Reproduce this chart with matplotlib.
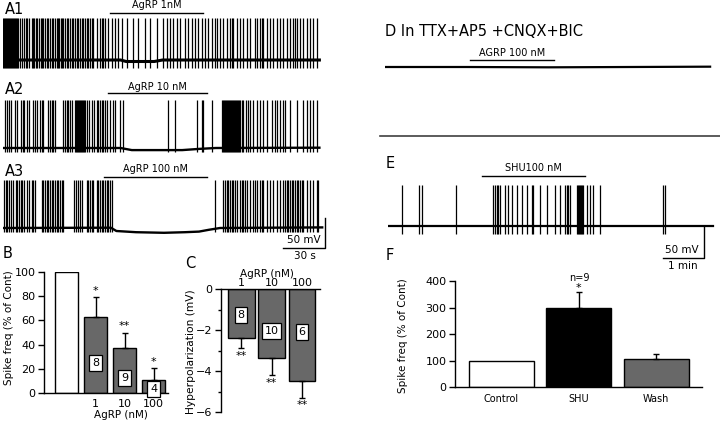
import matplotlib
matplotlib.use('Agg')
import matplotlib.pyplot as plt
import numpy as np
from matplotlib.lines import Line2D

# ---- recordings: spike times (s) ----
a1_spikes = [0, 0.7, 1.4, 2.1, 2.9, 3.6, 4.3, 5.0, 5.7, 6.4, 7.1, 7.9, 8.6, 9.3, 10.0, 10.7,
             12.1, 13.6, 15.0, 16.4, 17.1, 18.6, 20.7, 21.4, 22.1, 23.6, 24.3, 25.7, 27.1, 27.9,
             28.6, 30.0, 31.4, 32.1, 33.6, 35.0, 35.7, 37.1, 38.6, 39.3, 40.0, 41.4, 42.1, 42.9,
             44.3, 45.7, 46.4, 47.9, 49.3, 50.0, 51.4, 52.9, 53.6, 55.0, 56.4, 57.1, 58.6, 60.0,
             60.7, 62.1, 63.6, 64.3, 67.1, 69.3, 70.7, 71.4, 72.9, 75.0, 77.9, 80.0, 82.1, 85.0,
             88.6, 92.9, 96.4, 101.4, 105.0, 110.0, 114.3, 117.1, 119.3, 121.4, 124.3, 126.4,
             130.0, 132.1, 135.0, 137.1, 139.3, 142.1, 144.3, 146.4, 149.3, 151.4, 152.9, 155.0,
             157.1, 160.0, 162.1, 163.6, 164.3, 167.1, 169.3, 171.4, 174.3, 176.4, 180.0, 181.4,
             183.6, 185.0, 185.7, 188.6, 190.7, 192.9, 195.7, 197.9, 200.0, 202.9, 205.0, 207.1,
             208.6, 210.0, 212.1, 214.3, 217.1, 219.3, 221.4, 224.3]
a1_base_t = [0, 84, 88, 108, 114, 226]
a1_base_v = [0, 0, -2.5, -2.5, 0, 0]
a1_drug = (76.4, 142.9)

a2_spikes = [1.4, 2.9, 4.3, 5.7, 8.6, 10.0, 12.9, 14.3, 15.0, 17.1, 18.6, 21.4, 22.9, 24.3,
             26.4, 27.9, 28.6, 32.1, 33.6, 35.0, 35.7, 37.1, 42.9, 44.3, 45.7, 46.4, 47.9, 49.3,
             51.4, 52.1, 52.9, 53.6, 54.3, 55.0, 55.7, 56.4, 57.1, 57.9, 58.6, 60.0, 61.4, 63.6,
             65.0, 67.1, 67.9, 69.3, 70.7, 71.4, 72.9, 74.3, 76.4, 78.6, 80.0, 83.6, 85.7,
             117.9, 122.9, 138.6, 142.1, 142.9, 149.3,
             156.4, 157.1, 157.9, 158.6, 159.3, 160.0, 160.7, 161.4, 162.1, 162.9, 163.6, 164.3,
             165.0, 165.7, 166.4, 167.1, 167.9, 168.6, 169.3, 170.7, 171.4, 173.6, 175.0, 176.4,
             178.6, 181.4, 183.6, 185.7, 188.6, 192.1, 194.3, 195.7, 197.9, 200.0, 201.4, 205.0,
             210.0, 214.3, 217.1, 219.3, 221.4, 224.3]
a2_base_t = [0, 84, 92, 128, 140, 152, 226]
a2_base_v = [0, 0, -3.5, -3.5, -1.5, 0, 0.5]
a2_drug = (75.0, 145.7)

a3_spikes = [0.7, 2.1, 2.9, 4.3, 5.7, 7.1, 9.3, 10.0, 11.4, 12.9, 13.6, 15.0, 17.1, 18.6,
             20.7, 21.4, 22.9, 27.9, 28.6, 30.0, 31.4, 32.1, 33.6, 35.0, 35.7, 37.1, 38.6, 39.3,
             40.7, 42.1, 42.9, 50.7, 52.1, 53.6, 55.0, 56.4, 60.0, 60.7, 62.1, 63.6, 64.3, 67.1,
             67.9, 69.3, 70.7, 71.4, 72.9, 74.3, 75.0, 76.4, 77.9, 151.4,
             157.1, 158.6, 160.0, 160.7, 162.1, 163.6, 164.3, 165.7, 167.1, 169.3, 170.7, 171.4,
             172.9, 174.3, 176.4, 178.6, 180.0, 181.4, 183.6, 185.0, 185.7, 188.6, 190.7, 192.9,
             195.7, 197.9, 200.0, 201.4, 202.9, 203.6, 205.0, 206.4, 207.1, 208.6, 210.0, 210.7,
             212.1, 213.6, 214.3, 217.1, 219.3, 221.4, 224.3, 225.0]
a3_base_t = [0, 77, 81, 95, 115, 130, 140, 147, 155, 228]
a3_base_v = [0, 0.5, -5, -7, -8, -7, -6, -3, 0, 1]
a3_drug = (72.1, 145.7)

d_base_t = [0, 120, 240, 360, 476]
d_base_v = [0, 0, -0.5, 0, 0.5]
d_drug = (124.5, 247.4)

e_spikes = [20.5, 45.4, 49.8, 99.6, 153.7, 156.7, 159.6, 161.1, 164.0, 171.3, 175.7, 181.6,
            188.9, 196.2, 203.5, 210.8, 212.3, 222.5, 232.8, 244.5, 251.8, 259.2, 262.1, 263.5,
            266.5, 276.7, 278.2, 279.6, 281.1, 282.6, 284.0, 285.5, 291.4, 295.7, 300.1, 310.4,
            402.6, 405.6]
e_base_t = [0, 476]
e_base_v = [0, 0]
e_drug = (137.6, 288.4)

# ---- bar summaries ----
b_labels = ['', '1', '10', '100']
b_vals = [100, 62.4, 37.3, 11.1]
b_err = [0, 16.8, 12.6, 9.5]
b_n = ['', '8', '9', '4']
b_n_y = [0, 25, 12.5, 3.5]
b_stars = ['', '*', '**', '*']

c_labels = ['1', '10', '100']
c_vals = [-2.4, -3.35, -4.5]
c_err = [0.5, 0.85, 0.8]
c_n = ['8', '10', '6']
c_n_y = [-1.27, -2.05, -2.1]

f_labels = ['Control', 'SHU', 'Wash']
f_vals = [100, 299, 105]
f_err = [0, 61, 20]

W, H = 720, 423
fig = plt.figure(figsize=(W / 100, H / 100), dpi=100)
GRAY = '#686868'


def px_axes(x0, y0, x1, y1):
    ax = fig.add_axes([x0 / W, 1 - y1 / H, (x1 - x0) / W, (y1 - y0) / H])
    ax.set_facecolor('none')
    return ax


def ftext(x, y, s, **kw):
    fig.text(x / W, 1 - y / H, s, **kw)


def trace_ax(x0, x1, y0, y1, ybase, px_s, px_mv):
    ax = px_axes(x0, y0, x1, y1)
    ax.set_xlim(0, (x1 - x0) / px_s)
    ax.set_ylim((ybase - y1) / px_mv, (ybase - y0) / px_mv)
    ax.axis('off')
    return ax


def draw_trace(ax, spikes, bt, bv, foot, peak, drug, label, bar_v, txt_v, base_lw=1.7):
    if len(spikes):
        ax.vlines(spikes, foot, peak, colors='k', lw=0.9)
    ax.plot(bt, bv, color='k', lw=base_lw)
    ax.plot(drug, [bar_v, bar_v], color='k', lw=1.0, clip_on=False)
    ax.text(np.mean(drug), txt_v, label, ha='center', va='center', fontsize=7, clip_on=False)


# A traces (42 px = 30 s, 30 px = 50 mV)
ax1 = trace_ax(3, 330, 0, 80, 60, 1.4, 0.6)
draw_trace(ax1, a1_spikes, a1_base_t, a1_base_v, -13, 70, a1_drug, 'AgRP 1nM', 78, 91.7, 2.2)
ax2 = trace_ax(3, 330, 80, 158, 148, 1.4, 0.6)
draw_trace(ax2, a2_spikes, a2_base_t, a2_base_v, -6.7, 80, a2_drug, 'AgRP 10 nM', 91.7, 101.7)
ax3 = trace_ax(3, 335, 160, 262, 228, 1.4, 0.6)
draw_trace(ax3, a3_spikes, a3_base_t, a3_base_v, -6.7, 80, a3_drug, 'AgRP 100 nM', 85, 98.3)
ax3.plot([200, 230, 230], [-33.3, -33.3, 16.7], color='k', lw=1.0, clip_on=False)
ax3.text(215, -20, '50 mV', ha='center', va='center', fontsize=7.5)
ax3.text(216, -46.7, '30 s', ha='center', va='center', fontsize=7.5, clip_on=False)

ftext(5, 9, 'A1', fontsize=10.5, va='center')
ftext(5, 90, 'A2', fontsize=10.5, va='center')
ftext(5, 171, 'A3', fontsize=10.5, va='center')

# D and E traces (41 px = 1 min, 32 px = 50 mV)
axd = trace_ax(385, 715, 45, 80, 67, 0.683, 0.64)
draw_trace(axd, [], d_base_t, d_base_v, 0, 0, d_drug, 'AGRP 100 nM', 10.9, 21.9, 1.6)
ftext(385, 31, 'D In TTX+AP5 +CNQX+BIC', fontsize=10.5, va='center')

fig.add_artist(Line2D([380 / W, 1.0], [1 - 136 / H, 1 - 136 / H], color='#404040', lw=1.2))

axe = trace_ax(388, 715, 160, 270, 226, 0.683, 0.64)
draw_trace(axe, e_spikes, e_base_t, e_base_v, -12, 64, e_drug, 'SHU100 nM', 78, 90.6, 1.6)
axe.plot([402.6, 462.7, 462.7], [-50, -50, 0], color='k', lw=1.0, clip_on=False)
axe.text(430, -37.5, '50 mV', ha='center', va='center', fontsize=7.5)
axe.text(431, -62.5, '1 min', ha='center', va='center', fontsize=7.5, clip_on=False)
ftext(386, 163, 'E', fontsize=10.5, va='center')

# B
axb = px_axes(44, 272, 168, 393)
xb = np.arange(len(b_vals))
axb.bar(xb, b_vals, width=0.8, color=['white'] + [GRAY] * 3, edgecolor='k', lw=1.0)
axb.errorbar(xb[1:], b_vals[1:], yerr=[np.zeros(3), b_err[1:]], fmt='none', ecolor='k',
             elinewidth=1.0, capsize=2.5, capthick=1.0, clip_on=False)
for i in range(1, 4):
    axb.text(xb[i], b_vals[i] + b_err[i] + 1, b_stars[i], ha='center', va='bottom', fontsize=8)
    axb.text(xb[i], b_n_y[i], b_n[i], ha='center', va='center', fontsize=8,
             bbox=dict(boxstyle='square,pad=0.25', fc='white', ec='k', lw=0.9))
axb.set_xlim(-0.78, 3.5)
axb.set_ylim(0, 100)
axb.set_yticks([0, 20, 40, 60, 80, 100])
axb.set_xticks(xb)
axb.set_xticklabels(b_labels)
axb.tick_params(axis='x', length=0, pad=4, labelsize=8)
axb.tick_params(axis='y', length=4, width=1.0, labelsize=8, pad=2)
for s in ['top', 'right']:
    axb.spines[s].set_visible(False)
for s in ['left', 'bottom']:
    axb.spines[s].set_linewidth(1.0)
axb.set_xlabel('AgRP (nM)', fontsize=7.5)
axb.set_ylabel('Spike freq (% of Cont)', fontsize=7.5)
axb.yaxis.set_label_coords(14 / W, 1 - 328 / H, transform=fig.transFigure)
axb.xaxis.set_label_coords(121 / W, 1 - 410 / H, transform=fig.transFigure)
ftext(3, 254, 'B', fontsize=10.5, va='center')

# C
axc = px_axes(221, 289, 320, 412)
xc = np.arange(len(c_vals))
axc.bar(xc, c_vals, width=0.88, color=GRAY, edgecolor='k', lw=1.0)
axc.errorbar(xc, c_vals, yerr=[c_err, np.zeros(3)], fmt='none', ecolor='k',
             elinewidth=1.0, capsize=2.5, capthick=1.0, clip_on=False)
for i in range(3):
    axc.text(xc[i], c_vals[i] - c_err[i] - 0.12, '**', ha='center', va='top', fontsize=8)
    axc.text(xc[i], c_n_y[i], c_n[i], ha='center', va='center', fontsize=8,
             bbox=dict(boxstyle='square,pad=0.25', fc='white', ec='k', lw=0.9))
axc.set_xlim(-0.66, 2.59)
axc.set_ylim(-6, 0)
axc.set_yticks([0, -2, -4, -6])
axc.set_yticks([-1, -3, -5], minor=True)
axc.xaxis.tick_top()
axc.xaxis.set_label_position('top')
axc.set_xticks(xc)
axc.set_xticklabels(c_labels)
axc.tick_params(axis='x', length=0, pad=1, labelsize=8)
axc.tick_params(axis='y', which='major', length=4, width=1.0, labelsize=8, pad=2)
axc.tick_params(axis='y', which='minor', length=2.5, width=1.0)
for s in ['bottom', 'right']:
    axc.spines[s].set_visible(False)
for s in ['left', 'top']:
    axc.spines[s].set_linewidth(1.0)
axc.set_xlabel('AgRP (nM)', fontsize=7.5)
axc.xaxis.set_label_coords(267 / W, 1 - 277 / H, transform=fig.transFigure)
axc.set_ylabel('Hyperpolarization (mV)', fontsize=7.7)
axc.yaxis.set_label_coords(196 / W, 1 - 352 / H, transform=fig.transFigure)
ftext(185, 263, 'C', fontsize=10.5, va='center')

# F
axf = px_axes(455, 281, 702, 387)
xf = np.arange(len(f_vals))
axf.bar(xf, f_vals, width=0.84, color=['white', 'black', GRAY], edgecolor='k', lw=1.0)
axf.errorbar(xf[1:], f_vals[1:], yerr=[np.zeros(2), f_err[1:]], fmt='none', ecolor='k',
             elinewidth=1.0, capsize=2.5, capthick=1.0, clip_on=False)
axf.text(xf[1], f_vals[1] + f_err[1] + 14, '*', ha='center', va='center', fontsize=8,
         clip_on=False)
axf.text(xf[1], f_vals[1] + f_err[1] + 52, 'n=9', ha='center', va='center', fontsize=7,
         clip_on=False)
axf.set_xlim(-0.6, 2.59)
axf.set_ylim(0, 400)
axf.set_yticks([0, 100, 200, 300, 400])
axf.set_xticks(xf)
axf.set_xticklabels(f_labels)
axf.tick_params(axis='x', length=0, pad=5, labelsize=7)
axf.tick_params(axis='y', length=4, width=1.0, labelsize=8, pad=2)
for s in ['top', 'right']:
    axf.spines[s].set_visible(False)
for s in ['left', 'bottom']:
    axf.spines[s].set_linewidth(1.0)
axf.set_ylabel('Spike freq (% of Cont)', fontsize=7.5)
axf.yaxis.set_label_coords(408 / W, 1 - 336 / H, transform=fig.transFigure)
ftext(386, 255, 'F', fontsize=10.5, va='center')

fig.savefig('out.png', dpi=100)
